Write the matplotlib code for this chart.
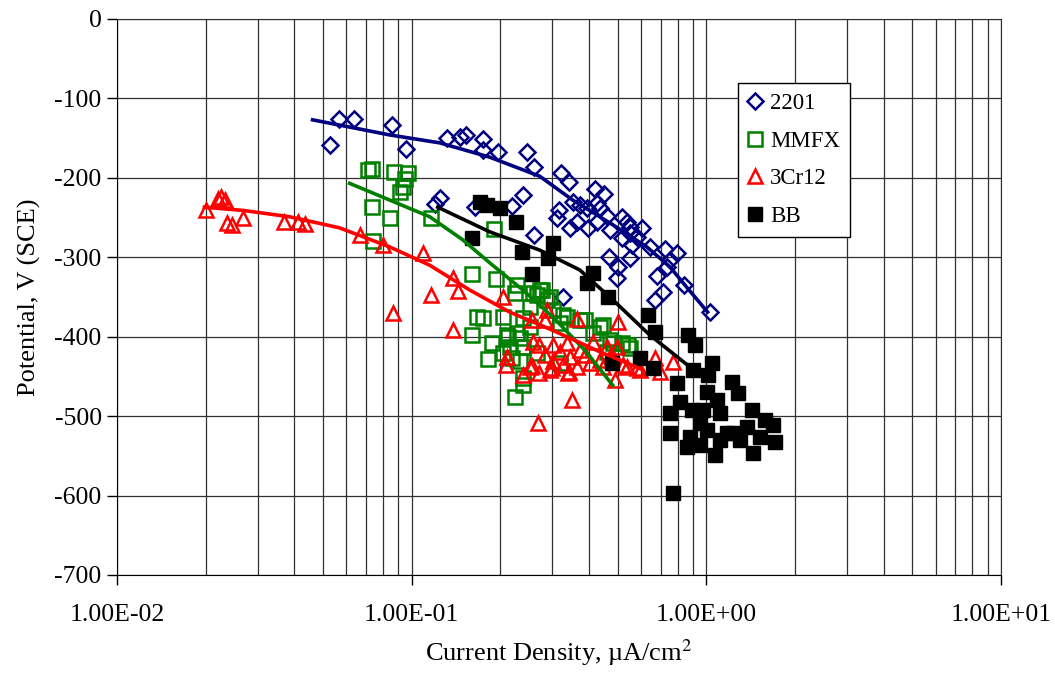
import numpy as np
import matplotlib
matplotlib.use('Agg')
import matplotlib.pyplot as plt
from matplotlib.ticker import FixedLocator, LogLocator, FuncFormatter, NullFormatter

plt.rcParams['font.family'] = 'Liberation Serif'
plt.rcParams['mathtext.fontset'] = 'stix'
plt.rcParams['axes.unicode_minus'] = False

# --- 2201 (current density uA/cm2, potential mV SCE)
x_2201 = [0.0527, 0.0565, 0.0635, 0.0855, 0.0954, 0.1315, 0.1455, 0.1525, 0.174, 0.174,
          0.196, 0.246, 0.260, 0.1245, 0.1197, 0.238, 0.219, 0.260, 0.164, 0.321,
          0.341, 0.418, 0.449, 0.352, 0.372, 0.316, 0.311, 0.393, 0.425, 0.435,
          0.363, 0.344, 0.396, 0.425, 0.459, 0.470, 0.517, 0.537, 0.550, 0.517,
          0.550, 0.604, 0.581, 0.559, 0.643, 0.723, 0.794, 0.467, 0.501, 0.550,
          0.752, 0.734, 0.679, 0.497, 0.839, 0.711, 0.669, 1.028, 0.326]
y_2201 = [-159, -126, -126, -134, -164, -150, -149, -146, -151, -165,
          -168, -168, -186, -225, -233, -222, -236, -272, -237, -194,
          -205, -214, -220, -230, -234, -241, -251, -238, -232, -238,
          -256, -263, -263, -256, -248, -266, -249, -256, -262, -276,
          -270, -263, -275, -285, -287, -290, -295, -300, -312, -301,
          -304, -312, -324, -326, -335, -344, -354, -369, -350]

# --- MMFX
x_mmfx = [0.0709, 0.0732, 0.0869, 0.0969, 0.0947, 0.0932, 0.0911, 0.0732, 0.0842, 0.116,
          0.0737, 0.190, 0.160, 0.194, 0.227, 0.224, 0.276, 0.266, 0.294, 0.174,
          0.160, 0.187, 0.181, 0.212, 0.227, 0.219, 0.238, 0.224, 0.204, 0.238,
          0.252, 0.326, 0.318, 0.238, 0.166, 0.210, 0.215, 0.233, 0.258, 0.272,
          0.287, 0.301, 0.252, 0.318, 0.336, 0.372, 0.445, 0.412, 0.470, 0.517,
          0.550, 0.238, 0.233, 0.204, 0.266, 0.387, 0.435, 0.541, 0.481, 0.459]
y_mmfx = [-190, -189, -193, -194, -202, -212, -218, -237, -251, -251,
          -280, -265, -321, -327, -335, -345, -341, -348, -350, -377,
          -398, -408, -428, -401, -396, -427, -452, -476, -375, -377,
          -388, -373, -433, -413, -375, -398, -413, -402, -345, -341,
          -354, -367, -363, -383, -375, -379, -385, -396, -404, -408,
          -414, -461, -430, -421, -421, -379, -388, -411, -408, -419]

# --- 3Cr12
x_3cr12 = [0.0201, 0.0221, 0.0226, 0.0232, 0.0237, 0.0245, 0.0267, 0.0370, 0.0410, 0.0433,
           0.0666, 0.0797, 0.0862, 0.109, 0.138, 0.116, 0.144, 0.138, 0.204, 0.256,
           0.287, 0.363, 0.210, 0.2085, 0.238, 0.256, 0.270, 0.299, 0.341, 0.349,
           0.268, 0.283, 0.501, 0.258, 0.252, 0.294, 0.339, 0.301, 0.318, 0.344,
           0.372, 0.412, 0.459, 0.497, 0.402, 0.445, 0.521, 0.594, 0.301, 0.326,
           0.363, 0.336, 0.489, 0.669, 0.695, 0.770, 0.537, 0.581, 0.270, 0.387,
           0.435, 0.283, 0.476]
y_3cr12 = [-241, -227, -224, -228, -257, -259, -251, -256, -256, -258,
           -272, -285, -370, -295, -326, -348, -343, -392, -350, -379,
           -367, -378, -426, -436, -448, -437, -446, -440, -445, -480,
           -509, -379, -382, -407, -438, -442, -446, -411, -419, -426,
           -417, -407, -413, -413, -433, -438, -436, -442, -430, -436,
           -438, -408, -455, -427, -445, -432, -438, -440, -410, -423,
           -429, -423, -423]

# --- BB
x_bb = [0.170, 0.180, 0.199, 0.2255, 0.160, 0.236, 0.256, 0.301, 0.290, 0.412,
        0.393, 0.463, 0.633, 0.669, 0.865, 0.914, 0.478, 0.594, 0.658, 0.794,
        0.900, 1.044, 1.012, 1.221, 1.279, 1.004, 1.086, 0.813, 0.752, 0.893,
        0.973, 1.111, 1.427, 1.580, 1.682, 1.708, 1.438, 1.069, 0.859, 0.752,
        0.879, 1.004, 1.174, 1.300, 1.373, 0.770, 0.951, 1.230, 1.520, 0.951,
        1.111]
y_bb = [-231, -234, -238, -256, -276, -293, -321, -282, -301, -320,
        -333, -350, -373, -394, -398, -411, -433, -427, -440, -458,
        -442, -433, -448, -457, -471, -470, -480, -482, -496, -492,
        -492, -496, -492, -505, -511, -533, -547, -549, -539, -521,
        -526, -518, -521, -530, -514, -597, -509, -521, -526, -536,
        -530]

# --- trend curves
tx_2201 = [0.0461, 0.0842, 0.1245, 0.184, 0.272, 0.352, 0.481, 0.628, 0.752, 0.859, 1.01]
ty_2201 = [-127, -146, -156, -174, -198, -228, -259, -287, -312, -338, -369]
tx_mmfx = [0.0616, 0.0842, 0.1151, 0.149, 0.184, 0.238, 0.301, 0.387, 0.481]
ty_mmfx = [-207, -228, -249, -278, -307, -341, -375, -417, -461]
tx_3cr12 = [0.0198, 0.0267, 0.0385, 0.0569, 0.0842, 0.1151, 0.157, 0.215, 0.301, 0.435, 0.595]
ty_3cr12 = [-237, -241, -249, -263, -287, -310, -341, -369, -392, -419, -440]
tx_bb = [0.1226, 0.184, 0.272, 0.372, 0.489, 0.643, 0.865]
ty_bb = [-237, -268, -291, -316, -356, -398, -436]

fig = plt.figure(figsize=(10.55, 6.79), dpi=100)
ax = fig.add_axes([0.1109, 0.1532, 0.8379, 0.8189])

ax.plot(x_2201, y_2201, 'D', ls='none', ms=8.5, mfc='none', mec='#000080', mew=1.8, label='2201')
ax.plot(x_mmfx, y_mmfx, 's', ls='none', ms=10, mfc='none', mec='#008000', mew=1.8, label='MMFX')
ax.plot(x_3cr12, y_3cr12, '^', ls='none', ms=10.5, mfc='none', mec='#ff0000', mew=1.8, label='3Cr12')
ax.plot(x_bb, y_bb, 's', ls='none', ms=10, mfc='black', mec='black', label='BB')

ax.plot(tx_2201, ty_2201, color='#000080', lw=2.6)
ax.plot(tx_mmfx, ty_mmfx, color='#008000', lw=2.6)
ax.plot(tx_3cr12, ty_3cr12, color='#ff0000', lw=2.6)
ax.plot(tx_bb, ty_bb, color='black', lw=2.6)

ax.set_xscale('log')
ax.set_xlim(0.01, 10)
ax.set_ylim(-700, 0)
ax.set_yticks(np.arange(-700, 1, 100))
ax.xaxis.set_major_locator(FixedLocator([0.01, 0.1, 1, 10]))
ax.xaxis.set_minor_locator(LogLocator(base=10, subs=np.arange(2, 10)))
ax.xaxis.set_major_formatter(FuncFormatter(lambda v, p: '%.2E' % v))
ax.xaxis.set_minor_formatter(NullFormatter())
ax.grid(which='both', color='#303030', lw=0.9)
ax.set_axisbelow(True)
ax.tick_params(which='major', direction='out', length=7, width=1, labelsize=18.5)
ax.tick_params(which='minor', length=0)
ax.tick_params(axis='x', pad=14)
ax.tick_params(axis='y', pad=4)
for s in ax.spines.values():
    s.set_color('#303030')
ax.spines['left'].set_color('black')
ax.spines['bottom'].set_color('black')

ax.set_xlabel(r'Current Density, µA/cm$^{2}$', fontsize=19, labelpad=8)
ax.set_ylabel('Potential, V (SCE)', fontsize=19, labelpad=10)

leg = ax.legend(loc='upper left', bbox_to_anchor=(0.7025, 0.885), borderaxespad=0,
                fancybox=False, edgecolor='black', framealpha=1, fontsize=16.5,
                handlelength=0.6, handletextpad=0.35, borderpad=0.45, labelspacing=0.72)
leg.get_frame().set_linewidth(1)

fig.savefig('out.png', dpi=100)
